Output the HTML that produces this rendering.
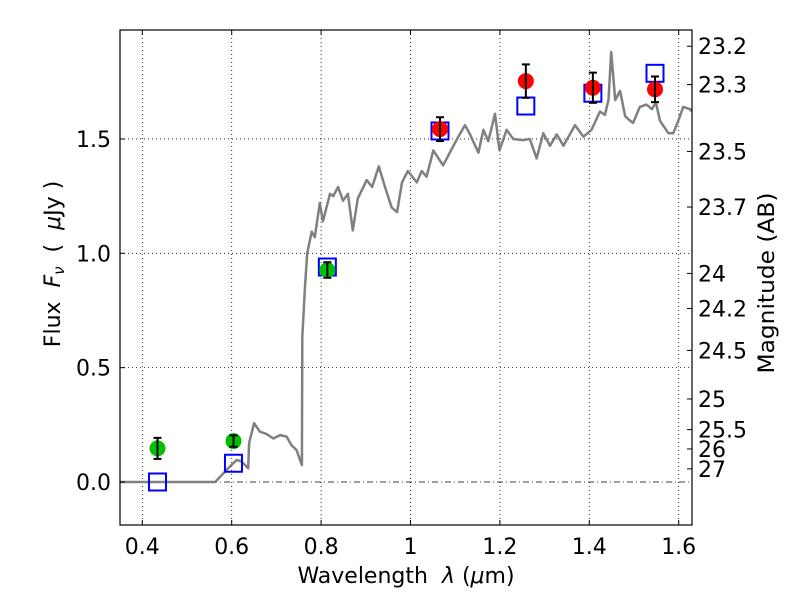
<!DOCTYPE html>
<html><head><meta charset="utf-8"><style>
html,body{margin:0;padding:0;background:#fff;}
svg{display:block;font-family:"DejaVu Sans","Liberation Sans",sans-serif;}
</style></head><body>
<svg id="chart" width="800" height="600" viewBox="0 0 800 600" xmlns="http://www.w3.org/2000/svg">
<rect width="800" height="600" fill="#fff"/>
<g id="grid"></g>
<g id="plot"></g>
<g id="axes"></g>
<text x="406" y="583" font-size="22" text-anchor="middle" style="white-space:pre">Wavelength  <tspan font-style="italic">λ</tspan> (<tspan font-style="italic">μ</tspan>m)</text>
<text transform="translate(60,264) rotate(-90)" font-size="22" text-anchor="middle" style="white-space:pre">Flux  <tspan font-style="italic">F</tspan><tspan font-style="italic" font-size="15" dy="4">ν</tspan><tspan dy="-4">  (  </tspan><tspan font-style="italic">μ</tspan>Jy )</text>
<text transform="translate(774,283) rotate(-90)" font-size="22" text-anchor="middle" textLength="181" lengthAdjust="spacingAndGlyphs">Magnitude (AB)</text>
</svg>
<script>
const specWave = [0.35,0.563,0.592,0.611,0.622,0.637,0.639,0.650,0.663,0.678,0.693,0.708,0.723,0.734,0.745,0.757,0.758,0.764,0.769,0.779,0.786,0.797,0.804,0.820,0.827,0.838,0.849,0.860,0.871,0.882,0.902,0.914,0.929,0.943,0.958,0.970,0.981,0.994,1.014,1.025,1.036,1.051,1.073,1.088,1.107,1.122,1.133,1.152,1.163,1.174,1.189,1.199,1.215,1.230,1.252,1.267,1.282,1.297,1.312,1.327,1.342,1.368,1.387,1.405,1.424,1.435,1.443,1.449,1.458,1.469,1.480,1.491,1.498,1.513,1.528,1.540,1.549,1.558,1.577,1.588,1.599,1.610,1.625,1.630];
const specFlux = [0,0,0.06,0.096,0.09,0.06,0.17,0.257,0.22,0.21,0.19,0.205,0.198,0.16,0.14,0.074,0.635,0.854,1.0,1.095,1.07,1.22,1.14,1.26,1.25,1.29,1.23,1.26,1.10,1.24,1.32,1.29,1.38,1.29,1.20,1.18,1.31,1.36,1.31,1.36,1.335,1.45,1.385,1.44,1.51,1.56,1.52,1.44,1.54,1.49,1.61,1.45,1.54,1.50,1.495,1.50,1.415,1.525,1.47,1.52,1.47,1.56,1.51,1.54,1.62,1.605,1.67,1.88,1.67,1.71,1.60,1.58,1.57,1.64,1.65,1.63,1.66,1.58,1.525,1.525,1.58,1.64,1.63,1.62];
const greenWave = [0.434,0.604,0.814];
const greenFlux = [0.147,0.179,0.927];
const greenErr = [0.046,0.025,0.034];
const redWave = [1.066,1.258,1.408,1.547];
const redFlux = [1.543,1.753,1.724,1.717];
const redErr = [0.052,0.073,0.066,0.056];
const modelWave = [0.434,0.604,0.814,1.066,1.258,1.408,1.547];
const modelFlux = [0.0,0.082,0.94,1.535,1.644,1.70,1.787];
const xTicks = [0.4,0.6,0.8,1.0,1.2,1.4,1.6];
const xTickLabels = ["0.4","0.6","0.8","1","1.2","1.4","1.6"];
const yTicks = [0,0.5,1.0,1.5];
const yTickLabels = ["0.0","0.5","1.0","1.5"];
const magTicks = [23.2,23.3,23.5,23.7,24,24.2,24.5,25,25.5,26,27];
const magTickLabels = ["23.2","23.3","23.5","23.7","24","24.2","24.5","25","25.5","26","27"];

const L=120,R=692,T=30,B=525;
const X = v => 142.3 + (v-0.4)*447;
const Y = f => 482 - f*228.7;
const magY = m => Y(Math.pow(10,(23.9-m)/2.5));
const NS="http://www.w3.org/2000/svg";
function mk(tag, parent, attrs){const e=document.createElementNS(NS,tag);for(const k in attrs)e.setAttribute(k,attrs[k]);parent.appendChild(e);return e;}
const grid=document.getElementById('grid'), plot=document.getElementById('plot'), axes=document.getElementById('axes');

xTicks.forEach((v,i)=>{
  const g=mk('line',grid,{x1:X(v),x2:X(v),y1:T,y2:B,stroke:'#000','stroke-width':0.8,'stroke-dasharray':'1,3'});
  
  
  const t1=mk('line',axes,{x1:X(v),x2:X(v),y1:B,y2:B-5,stroke:'#000'});
  
  
  const t2=mk('line',axes,{x1:X(v),x2:X(v),y1:T,y2:T+5,stroke:'#000'});
  
  
  const lb=mk('text',axes,{x:X(v),y:554,'font-size':22,'text-anchor':'middle'});
  lb.textContent=xTickLabels[i];
  
  
});
yTicks.forEach((v,i)=>{
  const g=mk('line',grid,{x1:L,x2:R,y1:Y(v),y2:Y(v),stroke:'#000','stroke-width':0.8,'stroke-dasharray':v===0?'6,3,1,3':'1,3'});
  
  
  const t=mk('line',axes,{x1:L,x2:L+5,y1:Y(v),y2:Y(v),stroke:'#000'});
  
  
  const lb=mk('text',axes,{x:111,y:Y(v)+8,'font-size':22,'text-anchor':'end'});
  lb.textContent=yTickLabels[i];
  
  
});
magTicks.forEach((m,i)=>{
  const y=magY(m);
  const t=mk('line',axes,{x1:R,x2:R-5,y1:y,y2:y,stroke:'#000'});
  
  
  const lb=mk('text',axes,{x:698,y:y+8,'font-size':22});
  lb.textContent=magTickLabels[i];
  
  
});
const fr=mk('rect',axes,{x:L,y:T,width:R-L,height:B-T,fill:'none',stroke:'#000','stroke-width':1.2});



const clip=mk('clipPath',plot,{id:'clp'});mk('rect',clip,{x:L,y:T,width:R-L,height:B-T});
const pts=specWave.map((w,i)=>X(w).toFixed(1)+','+Y(specFlux[i]).toFixed(1)).join(' ');
const sp=mk('polyline',plot,{points:pts,fill:'none',stroke:'#808080','stroke-width':2.5,'clip-path':'url(#clp)','stroke-linejoin':'round'});



modelWave.forEach((w,i)=>{
  const s=mk('rect',plot,{x:X(w)-8.5,y:Y(modelFlux[i])-8.5,width:17,height:17,fill:'none',stroke:'#0000ff','stroke-width':2});
  
  
});
function pointWithErr(w,f,e,color,name){
  const c=mk('circle',plot,{cx:X(w),cy:Y(f),r:8,fill:color});
  
  
  const g=mk('g',plot,{stroke:'#000','stroke-width':2});
  
  
  mk('line',g,{x1:X(w),x2:X(w),y1:Y(f-e),y2:Y(f+e)});
  mk('line',g,{x1:X(w)-4,x2:X(w)+4,y1:Y(f-e),y2:Y(f-e)});
  mk('line',g,{x1:X(w)-4,x2:X(w)+4,y1:Y(f+e),y2:Y(f+e)});
}
greenWave.forEach((w,i)=>pointWithErr(w,greenFlux[i],greenErr[i],'#00c000','optical-point'));
redWave.forEach((w,i)=>pointWithErr(w,redFlux[i],redErr[i],'#ff0000','nir-point'));
</script>
</body></html>
